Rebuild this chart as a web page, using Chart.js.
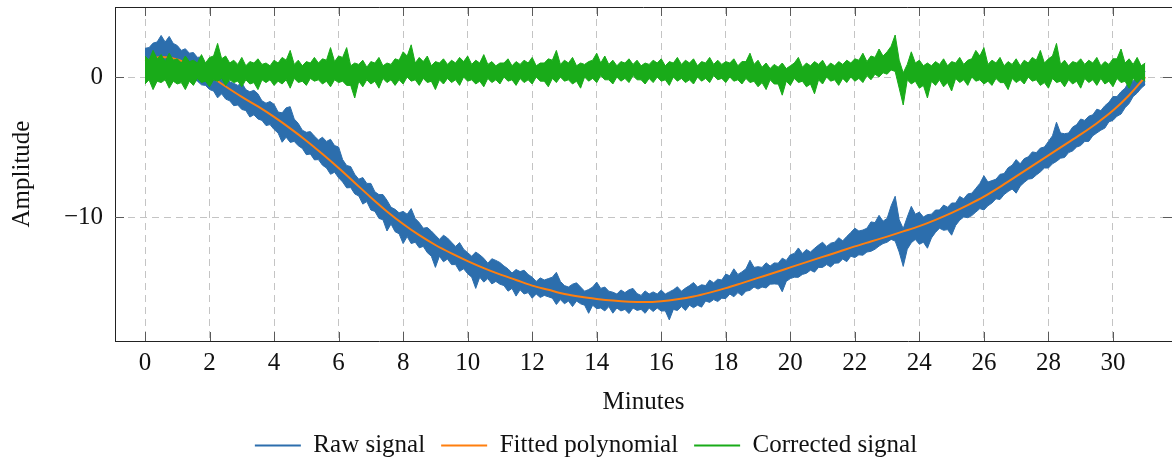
<!DOCTYPE html>
<html lang="en">
<head>
  <meta charset="UTF-8">
  <title>Raw and corrected signal</title>
  <script src="https://cdn.jsdelivr.net/npm/chart.js"></script>
  <style>
    body {
      margin: 0;
      background: #fff;
    }
    canvas {
      display: block;
    }
  </style>
</head>
<body>
  <canvas id="signalChart" width="1172" height="462"></canvas>

  <script>
    // samples every 0.125 min, 0 .. 31 min
    const sampleStep = 0.125;

    // raw signal, upper and lower edge of the noisy band
    const rawUpper = [
      2.05, 2.1, 2.42, 2.5, 2.97, 2.5, 2.9, 2.4, 2.25, 1.9, 2.02, 1.7, 1.75, 1.4, 1.44,
      0.9, 0.7, 0.3, 0.2, 0.3, 0.12, -0.35, -0.45, -0.6, -0.42, -0.9, -1.06, -0.95, -1.2, -1.7, -1.87,
      -1.75, -1.95, -2.5, -2.56, -2.2, -2.12, -3.0, -3.31, -3.8, -3.95, -3.9, -4.22, -4.5, -4.3, -4.6, -4.45,
      -4.9, -5.0, -5.9, -6.32, -6.4, -6.95, -7.3, -7.18, -7.6, -7.6, -8.2, -8.4, -8.4, -8.8, -9.3, -9.45,
      -9.7, -9.6, -9.8, -9.4, -10.1, -10.4, -10.8, -10.75, -11.0, -11.3, -11.6, -11.3, -11.5, -11.8, -12.1, -11.83,
      -12.3, -12.55, -12.8, -12.5, -12.7, -12.95, -13.3, -12.98, -13.1, -13.25, -13.5, -13.7, -14.0, -13.75, -13.9, -13.8,
      -14.1, -14.3, -14.6, -14.35, -14.5, -14.4, -14.3, -13.95, -14.6, -14.9, -15.0, -14.8, -14.7, -15.0, -15.3, -15.18,
      -15.0, -14.65, -15.1, -15.0, -15.3, -15.37, -15.5, -15.21, -15.4, -15.2, -15.1, -15.47, -15.6, -15.28, -15.5, -15.35,
      -15.5, -15.22, -15.5, -15.35, -15.2, -14.98, -15.3, -15.08, -14.9, -14.68, -15.0, -14.84, -14.9, -14.5, -14.7, -14.44,
      -14.5, -14.08, -14.2, -13.7, -14.1, -13.92, -13.7, -13.09, -13.6, -13.55, -13.6, -13.27, -13.5, -13.28, -13.3, -12.94,
      -13.1, -12.7, -12.6, -12.21, -12.6, -12.32, -12.5, -12.24, -12.0, -11.8, -12.1, -11.87, -11.8, -11.48, -11.7, -11.39,
      -11.1, -10.8, -11.0, -10.93, -10.8, -10.35, -10.4, -9.88, -10.3, -10.1, -9.2, -8.52, -10.2, -10.83, -10.0, -9.24,
      -9.8, -9.65, -10.0, -9.83, -9.8, -9.5, -9.5, -9.15, -9.3, -9.0, -9.0, -8.53, -8.7, -8.35, -8.3, -7.95,
      -7.6, -7.05, -7.5, -7.4, -7.3, -6.95, -6.9, -6.48, -6.3, -5.9, -6.2, -5.83, -5.7, -5.35, -5.4, -5.08,
      -5.0, -4.6, -4.2, -3.23, -4.0, -4.05, -4.0, -3.58, -3.4, -3.0, -3.1, -2.8, -2.7, -2.3, -2.4, -2.05,
      -1.8, -1.4, -1.4, -1.05, -0.8, -0.3, -0.3, 0.05, 0.0, 0.4
    ];
    const rawLower = [
      0.25, 0.4, 0.32, 0.5, 0.62, 0.5, 0.27, 0.5, 0.35, 0.2, 0.02, 0.1, -0.15, -0.3, -0.56,
      -0.6, -0.9, -1.0, -1.49, -1.2, -1.58, -1.7, -2.05, -2.0, -2.32, -2.4, -2.86, -2.7, -3.0, -3.1, -3.47,
      -3.4, -3.75, -4.0, -4.66, -4.3, -4.67, -4.6, -4.91, -5.1, -5.55, -5.5, -5.92, -5.9, -6.3, -6.5, -6.95,
      -6.8, -7.2, -7.5, -7.92, -7.9, -8.35, -8.5, -9.08, -8.9, -9.5, -9.6, -10.1, -10.2, -11.0, -10.5, -11.05,
      -11.2, -11.9, -11.4, -11.9, -11.8, -12.2, -12.1, -12.55, -12.8, -13.6, -12.8, -13.2, -13.0, -13.4, -13.4, -13.88,
      -13.7, -14.05, -14.3, -15.1, -14.3, -14.65, -14.4, -14.78, -14.6, -14.8, -14.9, -15.3, -15.1, -15.65, -15.2, -15.5,
      -15.4, -15.8, -15.5, -15.75, -15.6, -15.7, -15.8, -16.25, -15.9, -16.2, -16.0, -16.4, -16.0, -16.2, -16.3, -16.88,
      -16.3, -16.55, -16.5, -16.71, -16.4, -16.87, -16.5, -16.71, -16.6, -16.9, -16.5, -16.67, -16.6, -16.88, -16.5, -16.75,
      -16.5, -16.72, -16.7, -17.35, -16.6, -16.68, -16.4, -16.68, -16.3, -16.48, -16.3, -16.44, -16.0, -16.1, -15.9, -16.04,
      -15.8, -15.83, -15.5, -15.7, -15.4, -15.62, -15.3, -15.24, -15.0, -15.15, -15.0, -15.07, -14.8, -14.78, -14.8, -15.34,
      -14.6, -14.4, -14.3, -14.31, -14.1, -14.02, -13.8, -13.94, -13.6, -13.6, -13.4, -13.57, -13.3, -13.28, -13.0, -13.19,
      -12.8, -12.9, -12.7, -12.73, -12.5, -12.45, -12.3, -12.08, -11.9, -11.8, -11.6, -11.72, -12.5, -13.53, -12.3, -11.84,
      -11.6, -11.95, -11.8, -12.23, -11.5, -11.1, -10.8, -10.95, -10.9, -11.3, -10.6, -10.23, -10.0, -10.05, -9.9, -9.65,
      -9.4, -9.5, -9.2, -9.0, -8.7, -8.75, -8.4, -8.18, -8.0, -8.3, -7.8, -7.53, -7.3, -7.25, -7.0, -6.78,
      -6.5, -6.5, -6.2, -6.03, -5.8, -5.75, -5.4, -5.28, -5.0, -4.9, -4.6, -4.6, -4.2, -4.0, -3.8, -3.65,
      -3.2, -3.1, -2.8, -2.65, -2.2, -1.9, -1.4, -1.15, -0.8, -0.55
    ];

    // corrected signal, upper and lower edge
    const corrUpper = [
      1.5, 1.2, 1.9, 1.3, 1.6, 1.1, 1.7, 1.2, 1.3, 1.0, 1.5, 1.1, 1.2, 1.0, 1.6,
      1.0, 1.4, 1.5, 2.4, 1.3, 1.5, 1.0, 1.2, 0.9, 1.4, 0.8, 1.1, 1.0, 1.3, 0.9, 1.0,
      0.8, 1.2, 1.0, 1.4, 1.2, 1.9, 0.9, 1.2, 0.8, 1.1, 1.0, 1.4, 1.0, 1.3, 1.2, 2.1,
      1.1, 1.5, 1.4, 2.1, 0.8, 1.0, 0.9, 1.2, 0.7, 1.1, 1.0, 1.4, 0.8, 1.0, 0.9, 1.3,
      1.2, 1.8, 1.5, 2.3, 1.0, 1.4, 1.1, 1.5, 0.8, 1.1, 1.0, 1.3, 0.9, 1.2, 1.0, 1.4,
      1.1, 1.5, 0.9, 1.2, 1.0, 1.6, 0.9, 1.1, 0.8, 1.0, 1.0, 1.3, 0.8, 1.1, 0.9, 1.2,
      1.0, 1.4, 0.8, 1.0, 1.0, 1.3, 1.2, 1.9, 0.9, 1.2, 1.0, 1.4, 0.8, 1.0, 0.9, 1.1,
      1.2, 1.7, 1.0, 1.5, 0.9, 1.2, 0.8, 1.1, 1.0, 1.3, 0.9, 1.2, 0.8, 1.0, 0.9, 1.2,
      1.0, 1.3, 0.8, 1.1, 1.0, 1.4, 0.9, 1.2, 1.0, 1.3, 0.8, 1.1, 1.0, 1.4, 0.9, 1.2,
      0.9, 1.1, 1.0, 1.3, 0.8, 1.1, 1.1, 1.7, 0.9, 1.2, 0.7, 1.0, 0.6, 0.9, 0.7, 1.0,
      0.6, 0.8, 1.0, 1.4, 0.7, 1.0, 0.8, 1.1, 0.9, 1.2, 0.7, 1.0, 0.8, 1.1, 0.9, 1.2,
      1.0, 1.3, 1.2, 1.7, 1.1, 1.5, 1.4, 2.0, 1.5, 1.8, 2.2, 3.0, 1.2, 0.3, 0.9, 1.8,
      1.0, 1.2, 0.8, 1.0, 0.8, 1.1, 0.9, 1.3, 0.8, 1.1, 1.0, 1.4, 0.9, 1.2, 1.3, 1.9,
      1.5, 2.1, 0.9, 1.2, 1.0, 1.4, 0.8, 1.1, 0.9, 1.3, 0.8, 1.2, 1.0, 1.4, 1.2, 1.9,
      1.0, 1.3, 1.5, 2.4, 0.9, 1.2, 0.8, 1.1, 1.0, 1.3, 0.9, 1.2, 1.0, 1.4, 0.8, 1.1,
      0.9, 1.3, 1.3, 2.0, 1.0, 1.3, 0.9, 1.4, 0.8, 1.0
    ];
    const corrLower = [
      -0.5, -0.2, -0.9, -0.3, -0.4, -0.2, -0.8, -0.3, -0.5, -0.4, -0.9, -0.3, -0.6, -0.1, -0.4,
      -0.3, -0.7, -0.2, -0.3, -0.1, -0.6, -0.2, -0.4, -0.3, -0.7, -0.2, -0.5, -0.4, -0.9, -0.2, -0.4,
      -0.2, -0.6, -0.3, -0.5, -0.2, -0.8, -0.1, -0.4, -0.3, -0.6, -0.1, -0.3, -0.2, -0.5, -0.3, -0.7,
      -0.2, -0.4, -0.3, -0.6, -0.6, -1.5, -0.3, -0.7, -0.2, -0.5, -0.3, -0.8, -0.1, -0.4, -0.2, -0.6,
      -0.2, -0.5, 0.0, -0.3, -0.2, -0.6, -0.1, -0.4, -0.3, -0.9, -0.2, -0.5, -0.1, -0.4, -0.2, -0.6,
      0.0, -0.3, -0.2, -0.5, -0.3, -0.7, -0.1, -0.4, -0.2, -0.5, 0.0, -0.3, -0.2, -0.6, -0.1, -0.4,
      -0.2, -0.5, 0.0, -0.3, -0.3, -0.7, -0.1, -0.4, 0.0, -0.3, -0.2, -0.5, -0.3, -0.8, 0.0, -0.3,
      -0.1, -0.4, 0.1, -0.2, -0.2, -0.5, 0.0, -0.3, -0.1, -0.4, 0.1, -0.2, -0.2, -0.5, -0.1, -0.4,
      0.0, -0.3, -0.2, -0.6, 0.0, -0.3, -0.1, -0.4, -0.2, -0.5, 0.0, -0.3, -0.1, -0.4, 0.1, -0.2,
      -0.1, -0.4, 0.0, -0.3, -0.2, -0.5, -0.1, -0.4, -0.3, -0.7, -0.4, -0.9, -0.2, -0.5, -0.5, -1.3,
      -0.3, -0.6, -0.1, -0.4, -0.3, -0.7, -0.5, -1.2, -0.2, -0.5, 0.0, -0.3, -0.2, -0.6, -0.1, -0.4,
      0.0, -0.3, -0.1, -0.4, 0.1, -0.2, 0.2, 0.0, 0.3, 0.2, 0.5, 0.4, -0.8, -2.0, -0.2, -0.5,
      -0.3, -0.8, -0.6, -1.5, -0.3, -0.6, -0.2, -0.7, -0.4, -1.0, -0.1, -0.4, -0.2, -0.6, 0.0, -0.3,
      -0.2, -0.5, -0.3, -0.6, -0.1, -0.4, -0.4, -0.9, -0.1, -0.4, -0.2, -0.5, 0.0, -0.3, -0.2, -0.6,
      -0.4, -0.8, -0.1, -0.4, -0.3, -0.7, -0.2, -0.5, -0.3, -0.8, -0.1, -0.4, -0.2, -0.6, -0.1, -0.5,
      -0.3, -0.7, -0.1, -0.4, -0.3, -0.8, -0.1, -0.4, -0.1, -0.3
    ];

    // fitted polynomial, every 0.5 min
    const fitStep = 0.5;
    const fitValues = [
      1.15, 1.42, 1.25, 0.75, 0.1, -0.68, -1.42, -2.1,
      -2.85, -3.67, -4.55, -5.5, -6.5, -7.55, -8.6, -9.6,
      -10.5, -11.3, -12.0, -12.6, -13.15, -13.65, -14.1, -14.5,
      -14.9, -15.2, -15.5, -15.7, -15.85, -15.97, -16.05, -16.08,
      -16.02, -15.88, -15.68, -15.4, -15.08, -14.72, -14.35, -13.98,
      -13.6, -13.22, -12.85, -12.48, -12.1, -11.75, -11.4, -11.03,
      -10.65, -10.2, -9.7, -9.15, -8.55, -7.85, -7.1, -6.35,
      -5.6, -4.85, -4.1, -3.3, -2.4, -1.3, 0.0
    ];

    const xTicks = [0, 2, 4, 6, 8, 10, 12, 14, 16, 18, 20, 22, 24, 26, 28, 30];
    const yTicks = [-10, 0];

    const BLUE = "#2c6ead";
    const ORANGE = "#ff7f0e";
    const GREEN = "#19ab19";
    const FONT = "'Liberation Serif', 'Times New Roman', serif";

    function toPoints(values, step) {
      return values.map((v, i) => ({ x: i * step, y: v }));
    }

    function band(values, color, label, fill, order) {
      return {
        label: label,
        data: toPoints(values, sampleStep),
        borderColor: color,
        backgroundColor: color,
        pointBorderColor: color,
        pointBorderWidth: 2,
        borderWidth: 1,
        pointRadius: 0,
        fill: fill,
        order: order
      };
    }

    // pgfplots style frame: top line and ticks pointing inward
    const innerTicks = {
      id: "innerTicks",
      afterDatasetsDraw(chart) {
        const { ctx, chartArea: a, scales } = chart;
        const len = 9;
        ctx.save();
        ctx.lineWidth = 1;
        ctx.strokeStyle = "#5a5a5a";
        ctx.beginPath();
        scales.x.ticks.forEach(t => {
          const px = Math.round(scales.x.getPixelForValue(t.value)) + 0.5;
          ctx.moveTo(px, a.bottom);
          ctx.lineTo(px, a.bottom - len);
          ctx.moveTo(px, a.top);
          ctx.lineTo(px, a.top + len);
        });
        scales.y.ticks.forEach(t => {
          const py = Math.round(scales.y.getPixelForValue(t.value)) + 0.5;
          ctx.moveTo(a.left, py);
          ctx.lineTo(a.left + len, py);
          ctx.moveTo(a.right, py);
          ctx.lineTo(a.right - len, py);
        });
        ctx.stroke();
        ctx.strokeStyle = "#222";
        ctx.beginPath();
        ctx.moveTo(a.left, Math.round(a.top) + 0.5);
        ctx.lineTo(a.right, Math.round(a.top) + 0.5);
        ctx.stroke();
        ctx.restore();
      }
    };

    const ctx = document.getElementById("signalChart").getContext("2d");

    new Chart(ctx, {
      type: "line",
      data: {
        datasets: [
          band(rawUpper, BLUE, "Raw signal", "+1", 3),
          band(rawLower, BLUE, "", false, 3),
          {
            label: "Fitted polynomial",
            data: toPoints(fitValues, fitStep),
            borderColor: ORANGE,
            pointBorderColor: ORANGE,
            pointBorderWidth: 2,
            borderWidth: 2,
            pointRadius: 0,
            cubicInterpolationMode: "monotone",
            fill: false,
            order: 2
          },
          band(corrUpper, GREEN, "Corrected signal", "+1", 1),
          band(corrLower, GREEN, "", false, 1)
        ]
      },
      options: {
        responsive: false,
        animation: false,
        devicePixelRatio: 1,
        layout: {
          padding: { top: 7, right: 0, bottom: -6, left: 0 }
        },
        scales: {
          x: {
            type: "linear",
            min: -0.93,
            max: 31.83,
            afterBuildTicks: axis => {
              axis.ticks = xTicks.map(v => ({ value: v }));
            },
            afterFit: axis => {
              axis.height = 76;
              axis.paddingLeft = 0;
              axis.paddingRight = 0;
            },
            grid: {
              color: "#c4c4c4",
              lineWidth: 1,
              drawTicks: false
            },
            border: {
              color: "#222",
              width: 1,
              dash: [7, 5]
            },
            ticks: {
              color: "#111",
              padding: 7,
              maxRotation: 0,
              font: { family: FONT, size: 25 }
            },
            title: {
              display: true,
              text: "Minutes",
              color: "#111",
              padding: { top: 0, bottom: 0 },
              font: { family: FONT, size: 25 }
            }
          },
          y: {
            min: -18.857,
            max: 5,
            afterBuildTicks: axis => {
              axis.ticks = yTicks.map(v => ({ value: v }));
            },
            afterFit: axis => {
              axis.width = 115;
              axis.paddingTop = 0;
              axis.paddingBottom = 0;
            },
            grid: {
              color: "#c4c4c4",
              lineWidth: 1,
              drawTicks: false
            },
            border: {
              color: "#222",
              width: 1,
              dash: [7, 5]
            },
            ticks: {
              color: "#111",
              padding: 12,
              font: { family: FONT, size: 25 },
              callback: v => (v < 0 ? "\u2212" + Math.abs(v) : String(v))
            },
            title: {
              display: true,
              text: "Amplitude",
              color: "#111",
              padding: { top: 7, bottom: 0 },
              font: { family: FONT, size: 25 }
            }
          }
        },
        plugins: {
          tooltip: { enabled: false },
          legend: {
            position: "bottom",
            labels: {
              usePointStyle: true,
              pointStyle: "line",
              pointStyleWidth: 46,
              padding: 16,
              color: "#111",
              font: { family: FONT, size: 25 },
              filter: item => item.text !== "",
              sort: (a, b) => a.datasetIndex - b.datasetIndex
            }
          }
        }
      },
      plugins: [innerTicks]
    });
  </script>
</body>
</html>
